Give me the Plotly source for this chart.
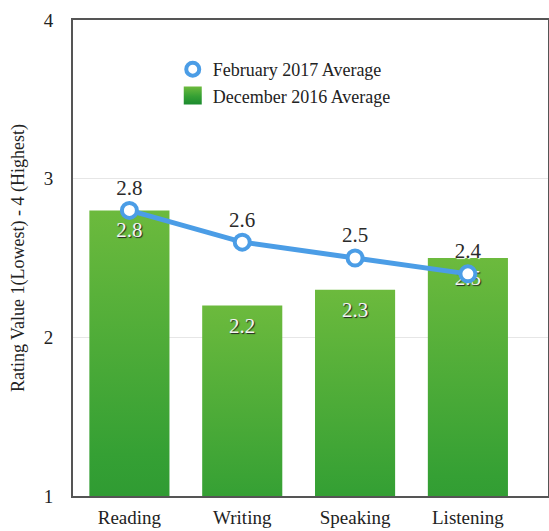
import plotly.graph_objects as go

categories = ["Reading", "Writing", "Speaking", "Listening"]
dec_2016 = [2.8, 2.2, 2.3, 2.5]
feb_2017 = [2.8, 2.6, 2.5, 2.4]
y_ticks = [1, 2, 3, 4]

SERIF = "Liberation Serif"
BLUE = "#4b9de6"

fig = go.Figure()

# legend-only entry (marker only, as in the reference legend)
fig.add_trace(go.Scatter(
    x=[None], y=[None], name="February 2017 Average", mode="markers",
    marker=dict(symbol="circle", size=13, color="white",
                line=dict(color=BLUE, width=4)),
    showlegend=True, hoverinfo="skip",
))

fig.add_trace(go.Scatter(
    x=categories, y=feb_2017, name="February 2017 Average",
    mode="lines+markers+text", showlegend=False,
    line=dict(color=BLUE, width=5),
    marker=dict(symbol="circle", size=15, color="white",
                line=dict(color=BLUE, width=4)),
    text=[f"{v:.1f}" for v in feb_2017], textposition="top center",
    textfont=dict(family=SERIF, size=21, color="#2a2a2a",
                  shadow="1px 1px 1px #ffffff"),
    cliponaxis=False,
))

fig.add_trace(go.Bar(
    x=categories, y=dec_2016, base=0, name="December 2016 Average",
    marker=dict(color="#3fa336", line=dict(width=0)),
    width=0.71,
    text=[f"{v:.1f}" for v in dec_2016], textposition="inside",
    insidetextanchor="end", textangle=0,
    textfont=dict(family=SERIF, size=21, color="#f4f4f4",
                  shadow="1px 1px 1px #222222"),
))

fig.update_layout(
    width=549, height=531,
    margin=dict(l=73, r=1, t=20, b=35, autoexpand=False),
    paper_bgcolor="white", plot_bgcolor="white",
    font=dict(family=SERIF, size=18, color="#222"),
    showlegend=True,
    legend=dict(x=0.21, y=0.935, xanchor="left", yanchor="top",
                bgcolor="rgba(0,0,0,0)", font=dict(family=SERIF, size=18, color="#222"),
                tracegroupgap=0),
    bargap=0.29,
)

fig.update_xaxes(
    type="category", categoryorder="array", categoryarray=categories,
    range=[-0.5, 3.71], showgrid=False,
    showline=True, linecolor="#555", linewidth=2, mirror=True,
    ticks="", tickfont=dict(family=SERIF, size=19, color="#222"),
    ticklabelstandoff=3, automargin=False,
)
fig.update_yaxes(
    range=[1, 4], tickvals=y_ticks, ticktext=[str(t) for t in y_ticks],
    showgrid=True, gridcolor="#e6e6e6", gridwidth=1,
    showline=True, linecolor="#555", linewidth=2, mirror=True,
    ticks="", tickfont=dict(family=SERIF, size=19, color="#222"),
    ticklabelstandoff=14, zeroline=False, automargin=False,
    title=dict(text="Rating Value 1(Lowest) - 4 (Highest)",
               font=dict(family=SERIF, size=18, color="#222"), standoff=14),
)

post = """
document.body.style.margin='0';
document.body.style.padding='0';
var gd = document.getElementById('{plot_id}');
function applyGrad(){
  var svg = gd.querySelector('svg.main-svg');
  if(!svg) return;
  var ns='http://www.w3.org/2000/svg';
  if(!document.getElementById('barGrad')){
    var defs = svg.querySelector('defs');
    if(!defs){ defs=document.createElementNS(ns,'defs'); svg.insertBefore(defs, svg.firstChild); }
    var lg=document.createElementNS(ns,'linearGradient');
    lg.setAttribute('id','barGrad');
    lg.setAttribute('x1','0'); lg.setAttribute('y1','0');
    lg.setAttribute('x2','0'); lg.setAttribute('y2','1');
    [['0','#6cba3d'],['0.55','#35a034'],['1','#1b8a2e']].forEach(function(s){
      var st=document.createElementNS(ns,'stop');
      st.setAttribute('offset',s[0]); st.setAttribute('stop-color',s[1]);
      lg.appendChild(st);
    });
    defs.appendChild(lg);
  }
  gd.querySelectorAll('.barlayer .point path').forEach(function(p){ p.style.fill='url(#barGrad)'; });
  gd.querySelectorAll('.barlayer text').forEach(function(t){
    if(t.getAttribute('data-shifted')) return;
    var tr = t.getAttribute('transform') || '';
    t.setAttribute('transform', 'translate(0,5) ' + tr);
    t.setAttribute('data-shifted','1');
  });
  gd.querySelectorAll('.legend .traces').forEach(function(g){
    if((g.textContent||'').indexOf('December') < 0) return;
    g.querySelectorAll('.legendpoints path').forEach(function(p){
      p.setAttribute('d','M9,9H-9V-9H9Z'); p.style.fill='url(#barGrad)'; p.style.strokeWidth='0';
    });
  });
}
applyGrad();
gd.on('plotly_afterplot', applyGrad);
"""

fig.write_html("out.html", post_script=post, config={"displayModeBar": False})
